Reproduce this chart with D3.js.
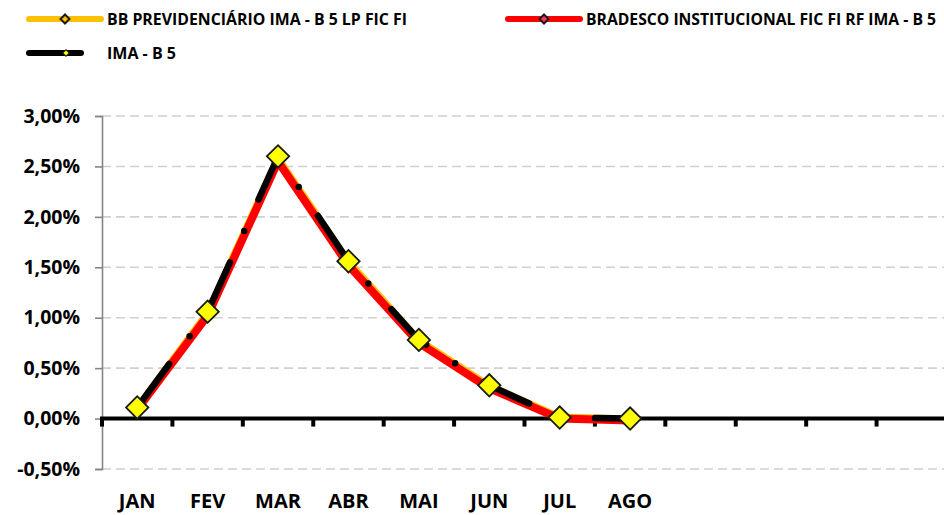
<!DOCTYPE html>
<html><head><meta charset="utf-8">
<script src="https://cdn.jsdelivr.net/npm/d3@7"></script>
<style>
html,body{margin:0;padding:0;background:#fff;}
svg{display:block;}
text{font-family:"Open Sans",sans-serif;font-weight:700;fill:#000;}
</style></head>
<body>
<svg id="c" width="944" height="515"></svg>
<script>
const months = ["JAN","FEV","MAR","ABR","MAI","JUN","JUL","AGO","","","",""];
const yTicks = [-0.5, 0, 0.5, 1.0, 1.5, 2.0, 2.5, 3.0];
const seriesNames = ["BB PREVIDENCIÁRIO IMA - B 5 LP FIC FI", "BRADESCO INSTITUCIONAL FIC FI RF IMA - B 5", "IMA - B 5"];
const bbValues = [0.10, 1.04, 2.57, 1.55, 0.77, 0.32, 0.01, -0.01];
const bradescoValues = [0.09, 1.02, 2.55, 1.52, 0.75, 0.30, 0.00, -0.02];
const imaValues = [0.11, 1.06, 2.60, 1.56, 0.78, 0.33, 0.01, 0.00];

const svg = d3.select("#c");
const x = d3.scaleBand().domain(d3.range(months.length)).range([102, 947]);
const y = d3.scaleLinear().domain([-0.5, 3.0]).range([469, 116]);
const cx = i => x(i) + x.bandwidth() / 2;
const fmt = v => d3.format(".2f")(v).replace(".", ",").replace("−", "-") + "%";

// gridlines
svg.append("g").selectAll("line").data(yTicks.filter(v => v !== 0)).join("line")
  .attr("x1", 102).attr("x2", 947).attr("y1", d => y(d)).attr("y2", d => y(d))
  .attr("stroke", "#d0d0d0").attr("stroke-width", 1.6).attr("stroke-dasharray", "9,5");

// y axis
const yAxis = svg.append("g").attr("transform", "translate(102,0)")
  .call(d3.axisLeft(y).tickValues(yTicks).tickFormat(fmt).tickSize(7).tickPadding(15));
yAxis.select(".domain").attr("stroke", "#858585").attr("stroke-width", 1.6);
yAxis.selectAll(".tick line").attr("stroke", "#858585").attr("stroke-width", 1.6);
yAxis.selectAll(".tick text").attr("font-size", 19.5).attr("font-family", "Open Sans").attr("font-weight", 700).attr("fill", "#000");

// x axis at zero
svg.append("line").attr("x1", 100).attr("x2", 947).attr("y1", y(0)).attr("y2", y(0))
  .attr("stroke", "#000").attr("stroke-width", 4);
svg.append("g").selectAll("line").data(d3.range(months.length)).join("line")
  .attr("x1", d => x(d)).attr("x2", d => x(d)).attr("y1", y(0)).attr("y2", y(0) + 8)
  .attr("stroke", "#000").attr("stroke-width", 4);

// x labels
svg.append("g").selectAll("text").data(months.map((m, i) => ({m, i})).filter(d => d.m)).join("text")
  .attr("x", d => cx(d.i)).attr("y", 508).attr("text-anchor", "middle")
  .attr("font-size", 20).text(d => d.m);

// lines
const line = d3.line().x((d, i) => cx(i)).y(d => y(d));
svg.append("path").datum(bbValues).attr("d", line).attr("fill", "none")
  .attr("stroke", "#FFC000").attr("stroke-width", 8).attr("stroke-linejoin", "round").attr("stroke-linecap", "round");
svg.append("path").datum(bradescoValues).attr("d", line).attr("fill", "none")
  .attr("stroke", "#FF0000").attr("stroke-width", 8).attr("stroke-linejoin", "round").attr("stroke-linecap", "round");
svg.append("path").datum(imaValues).attr("d", line).attr("fill", "none")
  .attr("stroke", "#000").attr("stroke-width", 6.5).attr("stroke-linejoin", "round").attr("stroke-linecap", "round")
  .attr("stroke-dasharray", "50,34.5,0,34.5").attr("stroke-dashoffset", -4);

// markers
svg.append("g").selectAll("path").data(imaValues).join("path")
  .attr("d", d3.symbol().type(d3.symbolSquare).size(250))
  .attr("transform", (d, i) => `translate(${cx(i)},${y(d)}) rotate(45)`)
  .attr("fill", "#FFFF00").attr("stroke", "#1a1a1a").attr("stroke-width", 1.8);

// legend
const legend = [
  {name: seriesNames[0], color: "#FFC000", fill: "#FFC000", x1: 29, x2: 101, dx: 65, y: 19, tx: 107, tw: 300, ms: 40},
  {name: seriesNames[1], color: "#FF0000", fill: "#FF3366", x1: 508, x2: 580, dx: 544, y: 19, tx: 586, tw: 350, ms: 40},
  {name: seriesNames[2], color: "#000000", fill: "#FFFF00", x1: 29, x2: 81, dx: 66, y: 53, tx: 107, tw: 69, ms: 22}
];
const lg = svg.append("g").selectAll("g").data(legend).join("g");
lg.append("line").attr("x1", d => d.x1).attr("x2", d => d.x2).attr("y1", d => d.y).attr("y2", d => d.y)
  .attr("stroke", d => d.color).attr("stroke-width", 6).attr("stroke-linecap", "round");
lg.append("path").attr("d", d => d3.symbol().type(d3.symbolSquare).size(d.ms)())
  .attr("transform", d => `translate(${d.dx},${d.y}) rotate(45)`)
  .attr("fill", d => d.fill).attr("stroke", "#1a1a1a").attr("stroke-width", d => d.ms > 30 ? 2 : 1);
lg.append("text").attr("x", d => d.tx).attr("y", d => d.y + 6).attr("font-size", 16.5)
  .text(d => d.name)
  .each(function(d) {
    const len = this.getComputedTextLength();
    const fs = Math.min(16.5, 16.5 * d.tw / len);
    d3.select(this).attr("font-size", fs);
    const len2 = this.getComputedTextLength();
    if (len2 < d.tw) d3.select(this).attr("textLength", d.tw).attr("lengthAdjust", "spacingAndGlyphs");
  });
</script>
</body></html>
